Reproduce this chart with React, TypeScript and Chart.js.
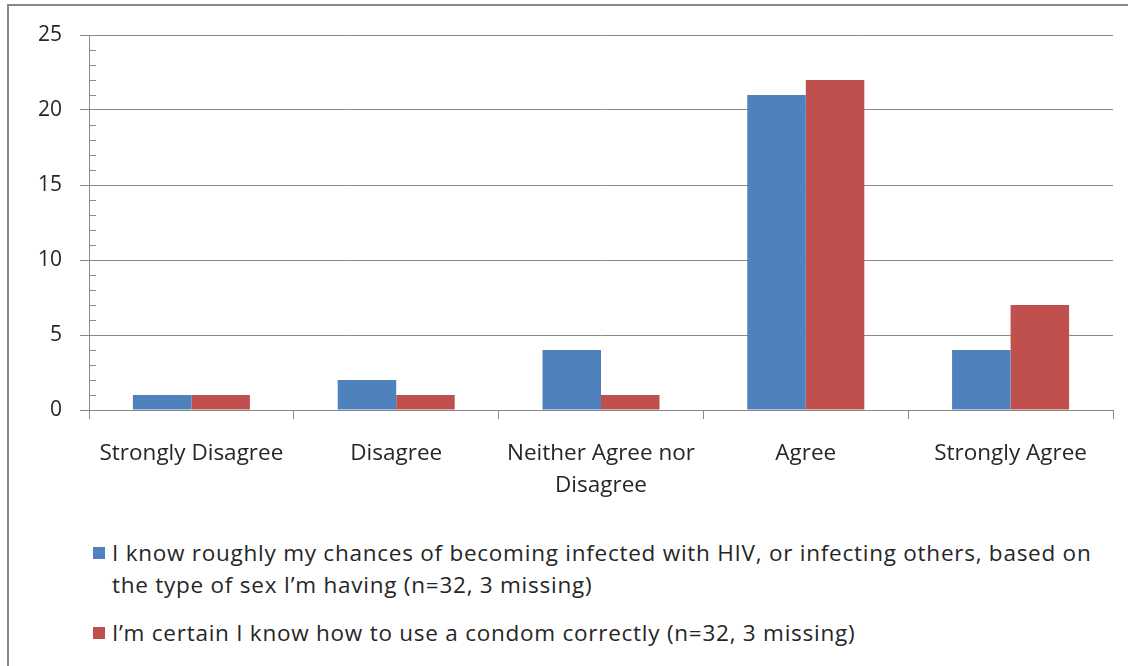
import React, { useEffect, useRef } from "react";
import { Chart, registerables } from "chart.js";

Chart.register(...registerables);

const categories: string[][] = [
  ["Strongly Disagree"],
  ["Disagree"],
  ["Neither Agree nor", "Disagree"],
  ["Agree"],
  ["Strongly Agree"],
];
const seriesKnowChances = [1, 2, 4, 21, 4];
const seriesCondom = [1, 1, 1, 22, 7];
const seriesNames = [
  "I know roughly my chances of becoming infected with HIV, or infecting others, based on the type of sex I’m having (n=32, 3 missing)",
  "I’m certain I know how to use a condom correctly (n=32, 3 missing)",
];
const legendLines: string[][] = [
  ["I know roughly my chances of becoming infected with HIV, or infecting others, based on", "the type of sex I’m having (n=32, 3 missing)"],
  ["I’m certain I know how to use a condom correctly (n=32, 3 missing)"],
];
const yMin = 0;
const yMax = 25;
const yMajorStep = 5;
const yMinorStep = 1;

const BLUE = "#4F81BD";
const RED = "#C0504D";
const GRID = "#8a8a8a";
const TEXT = "#262626";
const FONT = "'Open Sans', sans-serif";
const Y_FONT_SIZE = 21;
const X_FONT_SIZE = 22.5;
const LEGEND_FONT_SIZE = 22.5;

const minorTicksPlugin = {
  id: "minorTicks",
  afterDraw(chart: any) {
    const y = chart.scales.y;
    const ctx = chart.ctx;
    const left = chart.chartArea.left;
    ctx.save();
    ctx.strokeStyle = GRID;
    ctx.lineWidth = 1;
    for (let v = yMin; v <= yMax; v += yMinorStep) {
      if (v % yMajorStep === 0) continue;
      const py = Math.round(y.getPixelForValue(v)) + 0.5;
      ctx.beginPath();
      ctx.moveTo(left, py);
      ctx.lineTo(left + 7, py);
      ctx.stroke();
    }
    ctx.restore();
  },
};

export default function App() {
  const ref = useRef<HTMLCanvasElement | null>(null);

  useEffect(() => {
    if (!ref.current) return;
    const chart = new Chart(ref.current, {
      type: "bar",
      data: {
        labels: categories,
        datasets: [
          {
            label: seriesNames[0],
            data: seriesKnowChances,
            backgroundColor: BLUE,
            borderWidth: 0,
            categoryPercentage: 2 / 3.5,
            barPercentage: 1,
          },
          {
            label: seriesNames[1],
            data: seriesCondom,
            backgroundColor: RED,
            borderWidth: 0,
            categoryPercentage: 2 / 3.5,
            barPercentage: 1,
          },
        ],
      },
      options: {
        animation: false,
        responsive: false,
        maintainAspectRatio: false,
        layout: { padding: { left: 0, right: 15, top: 35, bottom: 0 } },
        plugins: {
          legend: { display: false },
          tooltip: { enabled: false },
        },
        scales: {
          x: {
            offset: true,
            grid: {
              offset: true,
              drawOnChartArea: false,
              drawTicks: true,
              tickLength: 9,
              color: GRID,
              lineWidth: 1,
            },
            border: { display: true, color: GRID, width: 1 },
            ticks: {
              color: TEXT,
              padding: 19,
              maxRotation: 0,
              autoSkip: false,
              font: { family: FONT, size: X_FONT_SIZE, lineHeight: "32px" as any },
            },
            afterFit(scale: any) {
              scale.height = 110;
            },
          },
          y: {
            min: yMin,
            max: yMax,
            ticks: {
              stepSize: yMajorStep,
              color: TEXT,
              padding: 18,
              font: { family: FONT, size: Y_FONT_SIZE },
            },
            grid: {
              color: GRID,
              lineWidth: 1,
              drawTicks: true,
              tickLength: 9,
            },
            border: { display: true, color: GRID, width: 1 },
            afterFit(scale: any) {
              scale.width = 89;
            },
          },
        },
      },
      plugins: [minorTicksPlugin],
    });
    return () => chart.destroy();
  }, []);

  const legendText: React.CSSProperties = {
    fontFamily: FONT,
    fontSize: LEGEND_FONT_SIZE,
    letterSpacing: "0.75px",
    lineHeight: "32px",
    color: TEXT,
    whiteSpace: "nowrap",
  };

  return (
    <div>
      <div
        style={{
          position: "absolute",
          left: 7,
          top: 4,
          width: 1121,
          height: 662,
          borderLeft: "2px solid #888",
          borderTop: "2px solid #888",
          boxSizing: "border-box",
        }}
      />
      <canvas
        ref={ref}
        width={1128}
        height={520}
        style={{ position: "absolute", left: 0, top: 0, width: 1128, height: 520 }}
      />
      {legendLines.map((lines, i) => (
        <div
          key={i}
          style={{
            position: "absolute",
            left: 93,
            top: i === 0 ? 537 : 617,
            display: "flex",
            alignItems: "flex-start",
          }}
        >
          <div
            style={{
              width: 12,
              height: 12,
              marginTop: 10,
              marginRight: 7,
              background: i === 0 ? BLUE : RED,
              flex: "none",
            }}
          />
          <div style={legendText}>
            {lines.map((l, j) => (
              <div key={j}>{l}</div>
            ))}
          </div>
        </div>
      ))}
    </div>
  );
}
